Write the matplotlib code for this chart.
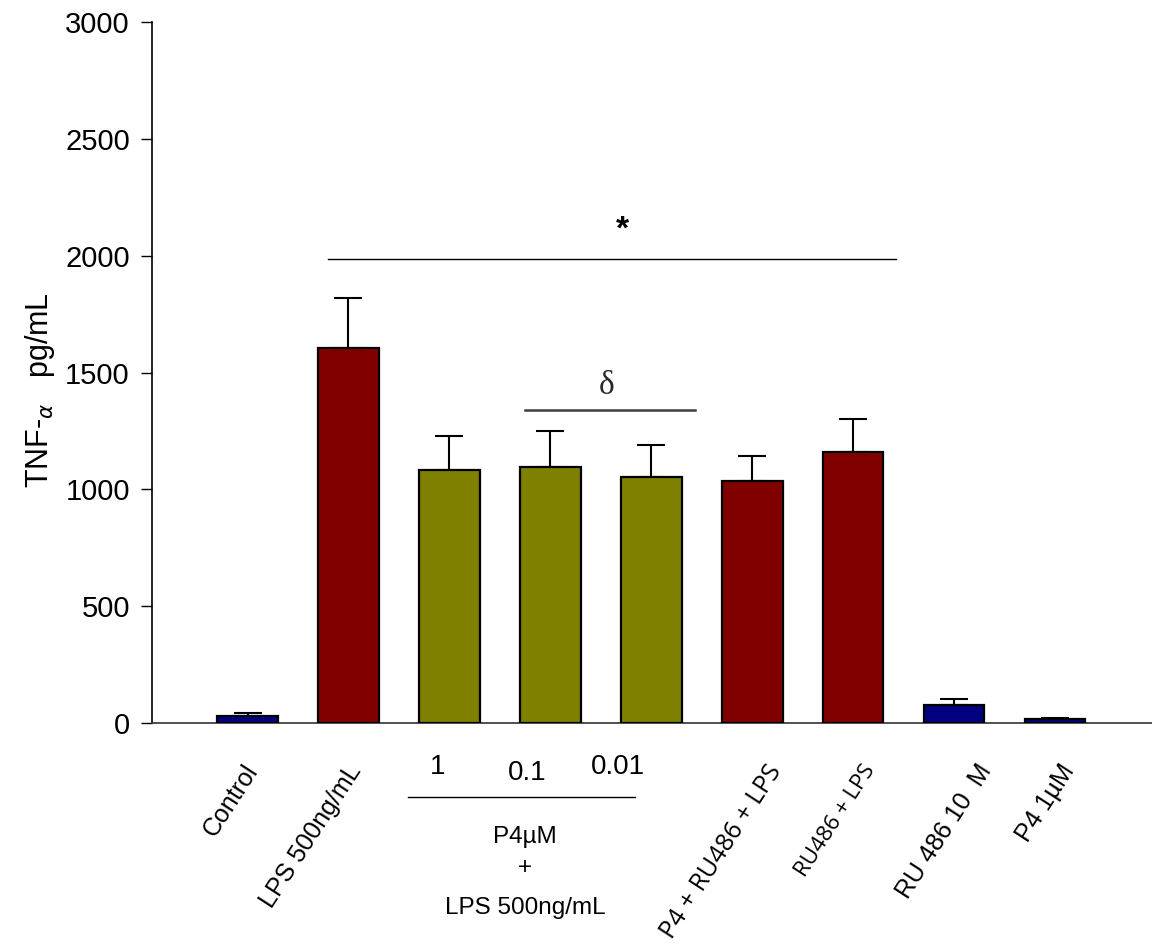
import matplotlib.pyplot as plt
from matplotlib.transforms import blended_transform_factory

plt.rcParams['font.family'] = ['Liberation Sans', 'DejaVu Sans']

groups = ['Control', 'LPS 500ng/mL', '1', '0.1', '0.01',
          'P4 + RU486 + LPS', 'RU486 + LPS', 'RU 486 10  M', 'P4 1\u00b5M']
tnf = [30, 1605, 1083, 1096, 1053, 1036, 1160, 77, 17]
sem = [13, 214, 145, 154, 137, 107, 141, 26, 5]
colors = ['#000080', '#800000', '#808000', '#808000', '#808000',
          '#800000', '#800000', '#000080', '#000080']
yticks = [0, 500, 1000, 1500, 2000, 2500, 3000]


def plot_chart():
    fig = plt.figure(figsize=(11.52, 9.44), dpi=100)
    ax = fig.add_axes([0.132, 0.234, 0.868, 0.7426])
    x = list(range(len(groups)))

    ax.bar(x, tnf, width=0.6, color=colors, edgecolor='black', linewidth=1.6, zorder=3)
    ax.errorbar(x, tnf, yerr=[[0] * len(sem), sem], fmt='none', ecolor='black',
                elinewidth=1.5, capsize=10, capthick=1.5, zorder=2)

    ax.set_xlim(-0.946, 8.96)
    ax.set_ylim(0, 3000)
    ax.set_yticks(yticks)
    ax.set_yticklabels([str(v) for v in yticks], fontsize=21)
    ax.tick_params(axis='y', length=8, width=1, direction='out', pad=8)
    ax.set_xticks([])
    for s in ['top', 'right']:
        ax.spines[s].set_visible(False)
    ax.spines['left'].set_linewidth(1.2)
    ax.spines['bottom'].set_linewidth(1.2)
    ax.spines['bottom'].set_color('#333333')

    # significance marks
    ax.plot([0.80, 6.42], [1986, 1986], color='black', lw=1.0, clip_on=False)
    ax.text(3.71, 2110, '*', ha='center', va='center', fontsize=24, fontweight='bold')
    ax.plot([2.75, 4.43], [1340, 1340], color='#404040', lw=1.8)
    ax.text(3.56, 1445, '\u03b4', ha='center', va='center', fontsize=24,
            family='Liberation Serif', color='#2a2a2a')

    # rotated group labels
    trans = blended_transform_factory(ax.transData, ax.transAxes)
    sizes = [18, 18, None, None, None, 18, 16, 18, 18]
    shift = [0.05, 0.08, 0, 0, 0, 0.24, 0.17, 0.32, 0.14]
    for i, lab in enumerate(groups):
        if sizes[i] is None:
            continue
        fam = ['Open Sans', 'DejaVu Sans'] if i in (5, 6) else None
        ax.text(i + shift[i], -0.062, lab, transform=trans, rotation=57, ha='right',
                va='center', rotation_mode='anchor', fontsize=sizes[i], family=fam)

    # dose group labels
    dose_x = [1.88, 2.77, 3.67]
    dose_y = [-0.063, -0.071, -0.063]
    for xd, yd, lab in zip(dose_x, dose_y, groups[2:5]):
        ax.text(xd, yd, lab, transform=trans, ha='center', va='center', fontsize=20)
    ax.plot([1.59, 3.84], [-0.106, -0.106], transform=trans, color='black', lw=1.0, clip_on=False)
    ax.text(2.75, -0.163, 'P4\u00b5M', transform=trans, ha='center', va='center', fontsize=17.5)
    ax.text(2.75, -0.207, '+', transform=trans, ha='center', va='center', fontsize=17.5)
    ax.text(2.75, -0.264, 'LPS 500ng/mL', transform=trans, ha='center', va='center', fontsize=17.5)

    fig.text(0.035, 1 - 390 / 944, r'TNF-$_{\alpha}$   pg/mL', rotation=90,
             ha='center', va='center', fontsize=22)

    fig.savefig('out.png', dpi=100)


def main():
    plot_chart()


if __name__ == "__main__":
    main()
